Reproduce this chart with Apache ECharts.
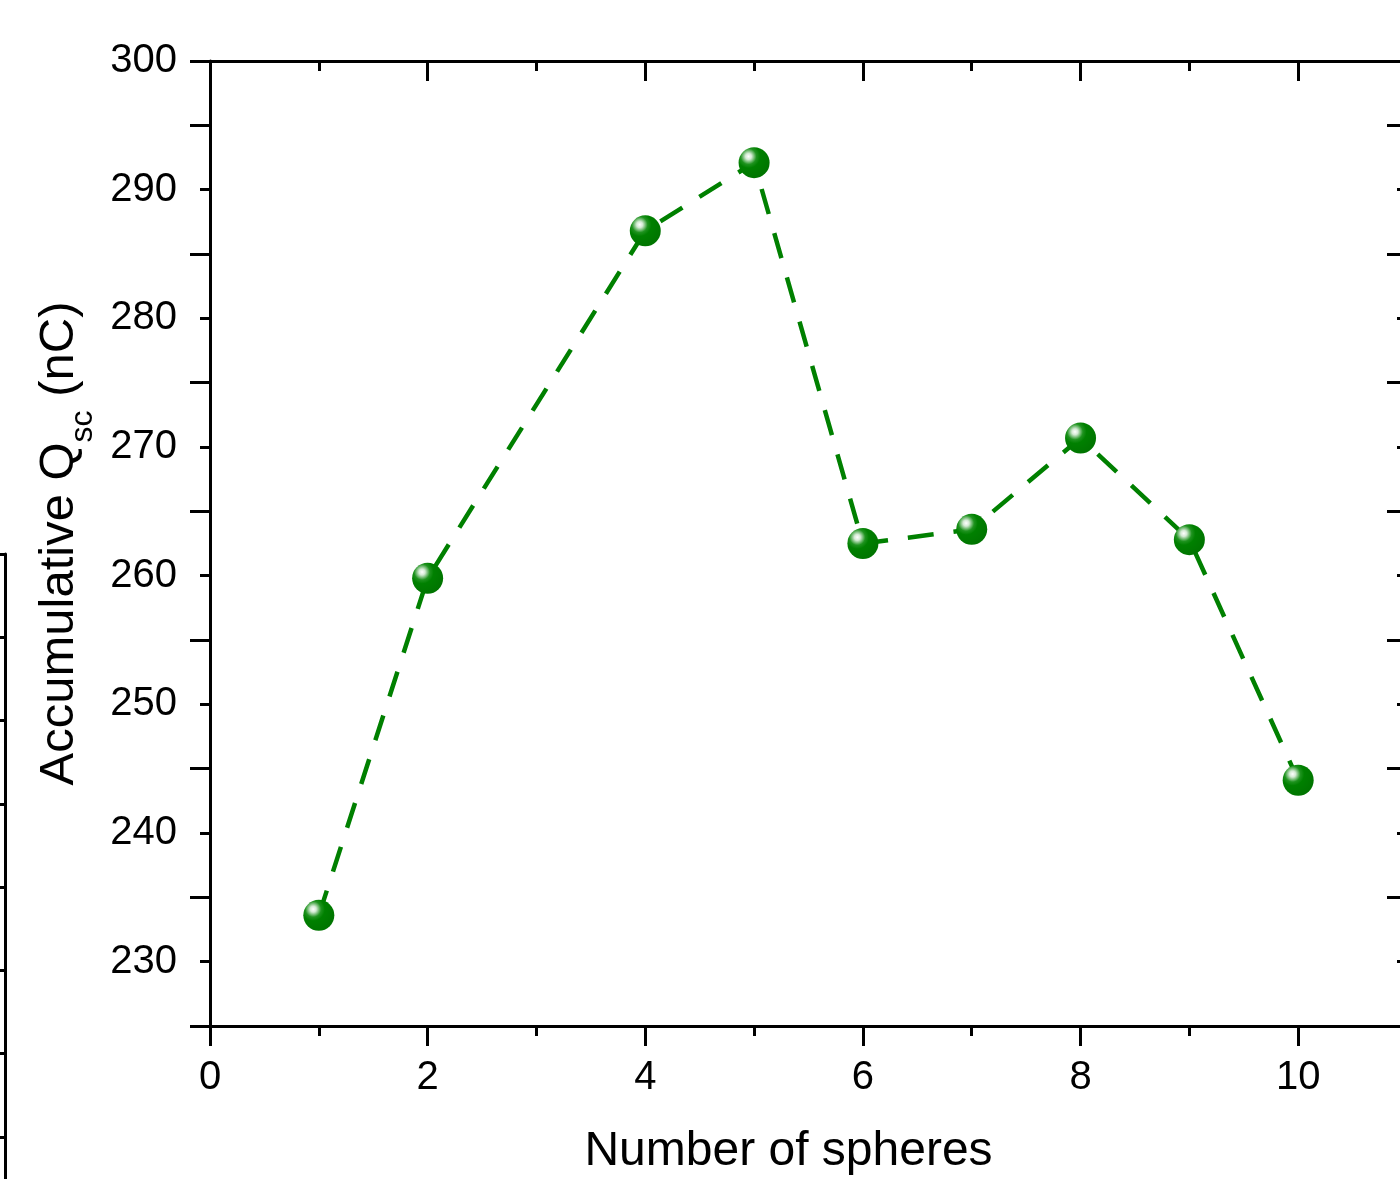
<!DOCTYPE html>
<html>
<head>
<meta charset="utf-8">
<title>Accumulative Qsc</title>
<script src="https://cdn.jsdelivr.net/npm/echarts@6.0.0/dist/echarts.min.js"></script>
<style>
	html, body { margin: 0; padding: 0; background: #fff; }
	#chart { width: 1400px; height: 1179px; }
</style>
</head>
<body>
<div id="chart"></div>
<script>
/*** number of spheres vs accumulative charge ***/
var sphereCounts = [1, 2, 4, 5, 6, 7, 8, 9, 10];
var chargeValues = [233.6, 259.8, 286.8, 292.1, 262.5, 263.6, 270.7, 262.8, 244.1];
var xTicks = [0, 2, 4, 6, 8, 10];
var yTicks = [230, 240, 250, 260, 270, 280, 290, 300];

var FONT = "Liberation Sans, Arial, sans-serif";
var GREEN = "#008000";

var qscChart = {
	init: function() {
		this.chart = echarts.init(document.getElementById("chart"));
		this.draw();
	},
	points: function() {
		var list = [];
		for (var i = 0; i < sphereCounts.length; i++) {
			list.push([sphereCounts[i], chargeValues[i]]);
		}
		return list;
	},
	draw: function() {
		var ball = new echarts.graphic.RadialGradient(0.32, 0.3, 0.75, [
			{ offset: 0, color: "#ffffff" },
			{ offset: 0.13, color: "#d4ead4" },
			{ offset: 0.34, color: "#1f931f" },
			{ offset: 0.5, color: "#008000" },
			{ offset: 1, color: "#007400" }
		]);
		var axisLine = { lineStyle: { color: "#000", width: 3 } };
		var tick = { width: 3, color: "#000" };
		var option = {
			animation: false,
			grid: [{
				left: 210,
				top: 61,
				width: 1197,
				height: 965,
				outerBoundsMode: "none"
			}, {
				// fragment of a neighbouring panel on the left edge
				left: 5,
				top: 554,
				width: 300,
				height: 666,
				outerBoundsMode: "none"
			}],
			xAxis: [{
				type: "value",
				gridIndex: 0,
				min: 0,
				max: 11,
				interval: 2,
				position: "bottom",
				axisLine: axisLine,
				axisTick: { show: true, inside: false, length: 20, lineStyle: tick },
				minorTick: { show: true, splitNumber: 2, length: 10, lineStyle: tick },
				splitLine: { show: false },
				axisLabel: {
					margin: 32,
					fontSize: 40,
					fontFamily: FONT,
					color: "#000",
					formatter: function(v) {
						return xTicks.indexOf(v) >= 0 ? String(v) : "";
					}
				},
				name: "Number of spheres",
				nameLocation: "middle",
				nameGap: 102,
				nameTextStyle: {
					fontSize: 48,
					fontFamily: FONT,
					color: "#000",
					padding: [0, 40, 0, 0]
				}
			}, {
				type: "value",
				gridIndex: 0,
				min: 0,
				max: 11,
				interval: 2,
				position: "top",
				axisLine: axisLine,
				axisTick: { show: true, inside: true, length: 20, lineStyle: tick },
				minorTick: { show: true, splitNumber: 2, length: 10, lineStyle: tick },
				splitLine: { show: false },
				axisLabel: { show: false }
			}, {
				type: "value",
				gridIndex: 1,
				min: 0,
				max: 1,
				show: false
			}],
			yAxis: [{
				type: "value",
				gridIndex: 0,
				min: 225,
				max: 300,
				interval: 5,
				position: "left",
				axisLine: axisLine,
				axisTick: { show: false },
				splitLine: { show: false },
				axisLabel: {
					margin: 33,
					fontSize: 40,
					fontFamily: FONT,
					color: "#000",
					formatter: function(v) {
						return yTicks.indexOf(v) >= 0 ? String(v) : "";
					}
				},
				name: "{a|Accumulative Q}{b|sc}{a| (nC)}",
				nameLocation: "middle",
				nameGap: 109,
				nameTextStyle: {
					fontFamily: FONT,
					color: "#000",
					rich: {
						a: { fontSize: 49, lineHeight: 56, verticalAlign: "middle", fontFamily: FONT, color: "#000" },
						b: { fontSize: 32, lineHeight: 80, verticalAlign: "bottom", fontFamily: FONT, color: "#000" }
					}
				}
			}, {
				// tick marks only, 10 major / 5 minor on the left side
				type: "value",
				gridIndex: 0,
				min: 225,
				max: 300,
				interval: 10,
				position: "left",
				axisLine: { show: false },
				axisTick: { show: true, inside: false, length: 20, lineStyle: tick },
				minorTick: { show: true, splitNumber: 2, length: 10, lineStyle: tick },
				splitLine: { show: false },
				axisLabel: { show: false }
			}, {
				type: "value",
				gridIndex: 0,
				min: 225,
				max: 300,
				interval: 10,
				position: "right",
				axisLine: axisLine,
				axisTick: { show: true, inside: true, length: 20, lineStyle: tick },
				minorTick: { show: true, splitNumber: 2, length: 10, lineStyle: tick },
				splitLine: { show: false },
				axisLabel: { show: false }
			}, {
				type: "value",
				gridIndex: 1,
				min: 0,
				max: 8,
				interval: 1,
				inverse: true,
				position: "left",
				axisLine: { show: true, lineStyle: { color: "#000", width: 3 } },
				axisTick: { show: true, inside: false, length: 6, lineStyle: tick },
				splitLine: { show: false },
				axisLabel: { show: false }
			}],
			series: [{
				type: "line",
				xAxisIndex: 0,
				yAxisIndex: 0,
				data: this.points(),
				symbol: "circle",
				symbolSize: 31,
				itemStyle: { color: ball },
				lineStyle: { color: GREEN, width: 4.5, type: [26, 20] },
				z: 3
			}]
		};
		this.chart.setOption(option, true);
	}
};

qscChart.init();
</script>
</body>
</html>
